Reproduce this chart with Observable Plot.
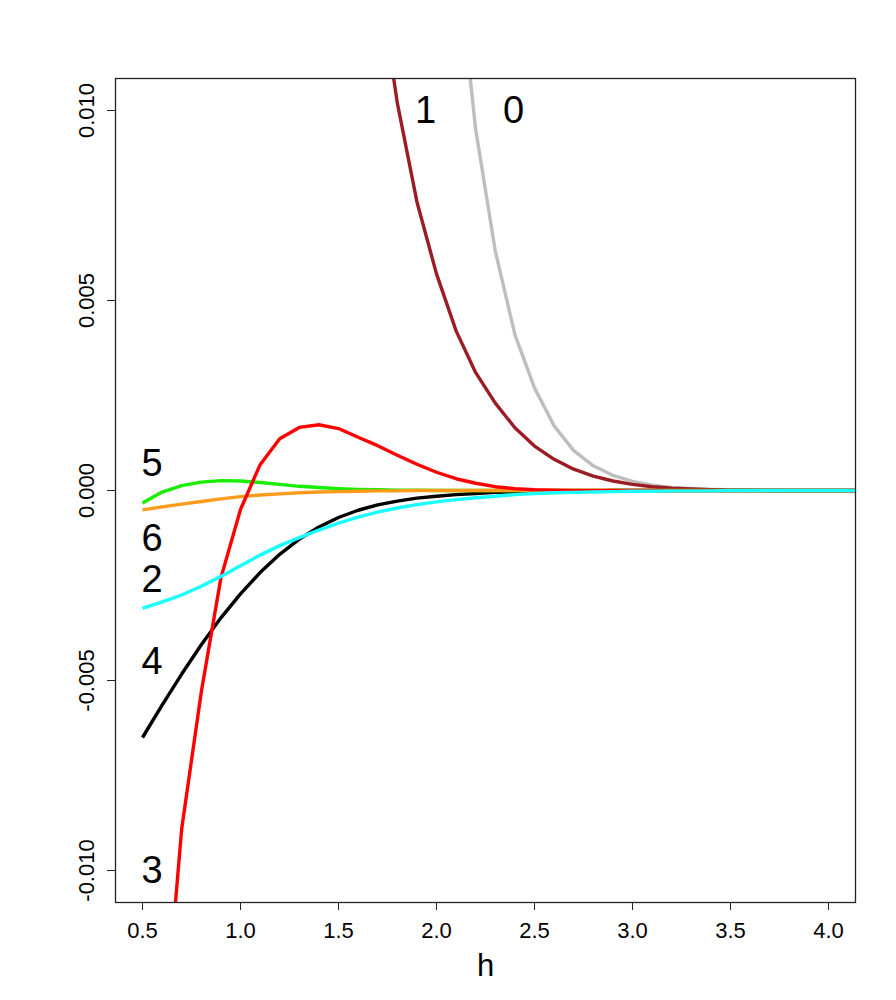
<!DOCTYPE html>
<html>
<head>
<meta charset="utf-8">
<script src="https://cdn.jsdelivr.net/npm/d3@7"></script>
<script src="https://cdn.jsdelivr.net/npm/@observablehq/plot@0.6"></script>
<style>
  html, body { margin: 0; padding: 0; background: #fff; }
  #chart svg { display: block; }
</style>
</head>
<body>
<div id="chart"></div>
<script>
// bandwidth grid
const h = [0.5,0.6,0.7,0.8,0.9,1.0,1.1,1.2,1.3,1.4,1.5,1.6,1.7,1.8,1.9,2.0,2.1,2.2,2.3,2.4,2.5,2.6,2.7,2.8,2.9,3.0,3.1,3.2,3.3,3.4,3.5,3.6,3.7,3.8,3.9,4.0,4.1,4.2];

// series (null = not drawn / off the chart)
const s0 = [null,null,null,null,null,null,null,null,null,null,null,null,null,null,null,
  0.021,0.0143,0.0095,0.0063,0.0041,0.0027,0.0017,0.00105,0.00065,0.0004,0.00024,0.00014,0.00008,0.00005,0.00003,0.00002,0.00001,0.00001,0,0,0,0,0];
const s1 = [null,null,null,null,null,null,null,null,null,null,null,
  0.0183,0.0137,0.0102,0.0076,0.0057,0.0042,0.0031,0.0023,0.00165,0.00117,0.00082,0.00056,0.00038,0.00025,0.00016,0.0001,0.00006,0.00004,0.00002,0.00001,0.00001,0,0,0,0,0,0];
const s2 = [-0.0031,-0.00293,-0.00275,-0.00252,-0.00226,-0.00198,-0.0017,-0.00145,-0.00124,-0.00104,-0.00086,-0.0007,-0.00057,-0.00046,-0.00037,-0.0003,-0.00024,-0.00019,-0.00015,-0.00011,-0.00008,-0.00006,-0.00005,-0.00004,-0.00003,-0.00002,-0.00002,-0.00001,-0.00001,-0.00001,0,0,0,0,0,0,0,0];
const s3 = [-0.024,-0.015,-0.0089,-0.0053,-0.0023,-0.0005,0.00068,0.00136,0.00166,0.00173,0.00163,0.0014,0.00118,0.00093,0.00069,0.00048,0.00031,0.00019,0.0001,0.00005,0.00002,0.00001,0,0,0,0,0,0,0,0,0,0,0,0,0,0,0,0];
const s4 = [-0.0065,-0.00565,-0.00483,-0.00406,-0.00335,-0.00272,-0.00216,-0.00168,-0.00128,-0.00096,-0.00071,-0.00052,-0.00038,-0.00028,-0.0002,-0.00015,-0.00011,-0.00008,-0.00005,-0.00004,-0.00003,-0.00002,-0.00001,-0.00001,0,0,0,0,0,0,0,0,0,0,0,0,0,0];
const s5 = [-0.00033,-0.00004,0.00013,0.00022,0.00026,0.00025,0.00021,0.00016,0.00011,0.00008,0.00005,0.00003,0.00002,0.00001,0.00001,0,0,0,0,0,0,0,0,0,0,0,0,0,0,0,0,0,0,0,0,0,0,0];
const s6 = [-0.00051,-0.00043,-0.00036,-0.00029,-0.00022,-0.00016,-0.00012,-0.00009,-0.00006,-0.00004,-0.00003,-0.00002,-0.00001,-0.00001,0,0,0,0,0,0,0,0,0,0,0,0,0,0,0,0,0,0,0,0,0,0,0,0];

// draw order and colours
const seriesOrder = ["0","1","4","5","6","3","2"];
const seriesValues = {"0": s0, "1": s1, "2": s2, "3": s3, "4": s4, "5": s5, "6": s6};
const seriesColors = {"0": "#bebebe", "1": "#9b1c22", "2": "#1affff", "3": "#ff0000", "4": "#000000", "5": "#1aee00", "6": "#ff9a1a"};

// curve labels (placed in data coordinates)
const labelText = ["1","0","5","6","2","4","3"];
const labelH    = [1.944, 2.393, 0.549, 0.549, 0.549, 0.549, 0.549];
const labelV    = [0.0100, 0.0100, 0.00069, -0.00127, -0.00236, -0.00452, -0.0100];

// axes
const xTicks = [0.5,1.0,1.5,2.0,2.5,3.0,3.5,4.0];
const yTicks = [-0.010,-0.005,0.000,0.005,0.010];
const xLabel = "h";

const font = "'Liberation Sans', Arial, Helvetica, sans-serif";

const lineMarks = seriesOrder.map(k => {
  const rows = h.map((x, i) => ({h: x, v: seriesValues[k][i]})).filter(d => d.v !== null);
  return Plot.line(rows, {x: "h", y: "v", stroke: seriesColors[k], strokeWidth: 3.4, clip: true, strokeLinejoin: "round", strokeLinecap: "butt"});
});

const labels = labelText.map((t, i) => ({t, h: labelH[i], v: labelV[i]}));

const chart = Plot.plot({
  width: 896,
  height: 1000,
  marginTop: 78,
  marginLeft: 115,
  marginRight: 41,
  marginBottom: 98,
  style: {fontFamily: font, background: "#fff", color: "#000"},
  x: {domain: [0.3622, 4.1378], label: null},
  y: {domain: [-0.010842, 0.010842], label: null},
  marks: [
    ...lineMarks,
    Plot.frame({stroke: "#222", strokeWidth: 1.3}),
    Plot.axisX(xTicks, {tickSize: 8, tickFormat: () => "", stroke: "#222", label: null}),
    Plot.axisY(yTicks, {tickSize: 8, tickFormat: () => "", stroke: "#222", label: null}),
    Plot.text(xTicks, {x: d => d, frameAnchor: "bottom", dy: 28, text: d => d.toFixed(1), fontSize: 22, fill: "#000", lineAnchor: "middle"}),
    Plot.text(yTicks, {y: d => d, frameAnchor: "left", dx: -29, text: d => Math.abs(d) < 1e-12 ? "0.000" : d.toFixed(3), fontSize: 22, fill: "#000", rotate: -90, textAnchor: "middle", lineAnchor: "middle"}),
    Plot.text([xLabel], {frameAnchor: "bottom", dy: 64, text: d => d, fontSize: 31, fill: "#000", lineAnchor: "middle"}),
    Plot.text(labels, {x: "h", y: "v", text: "t", fontSize: 38, fill: "#000", textAnchor: "middle", lineAnchor: "middle"})
  ]
});

document.getElementById("chart").appendChild(chart);
</script>
</body>
</html>
